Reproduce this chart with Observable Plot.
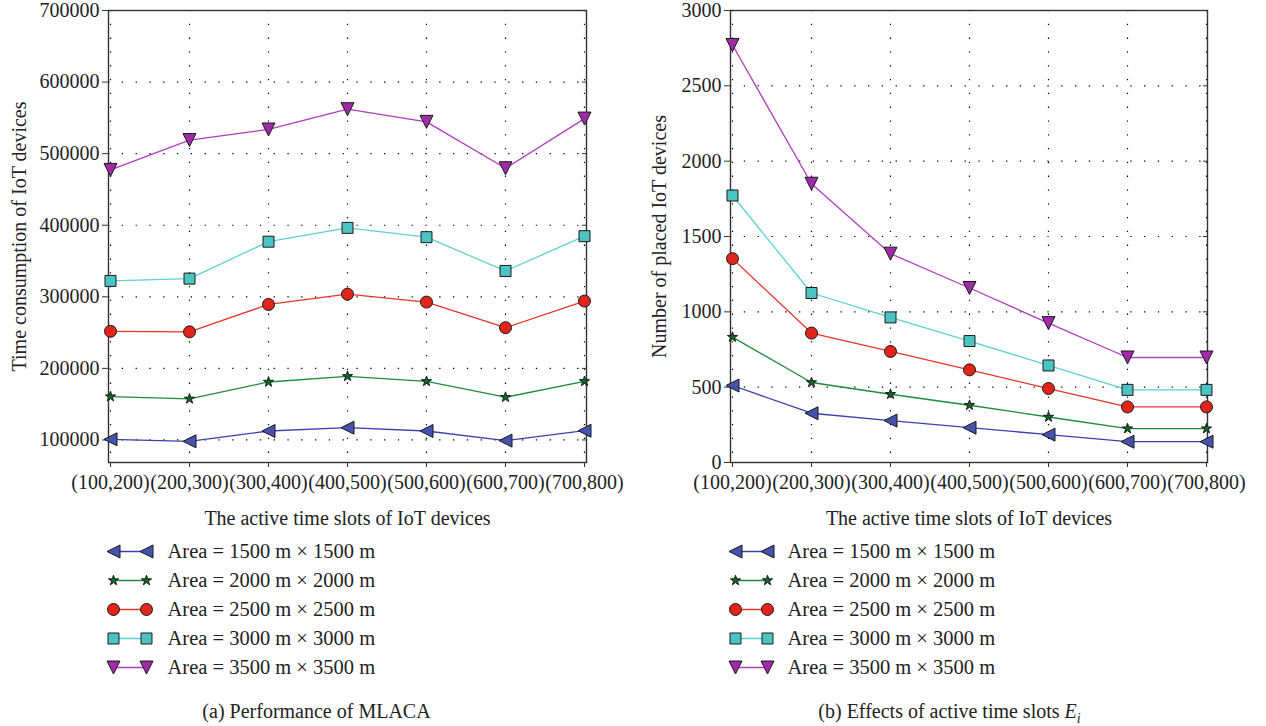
<!DOCTYPE html>
<html><head><meta charset="utf-8">
<script src="https://cdn.jsdelivr.net/npm/d3@7"></script>
<script src="https://cdn.jsdelivr.net/npm/@observablehq/plot@0.6"></script>
<style>
body{margin:0;background:#fff;width:1266px;height:726px;overflow:hidden;font-family:"Liberation Serif",serif;color:#222;}
.panel{position:absolute;top:0;width:633px;height:726px;}
.chart{position:absolute;top:0;left:0;}
.legend{position:absolute;top:530px;left:0;}
.caption{position:absolute;top:699px;left:0;width:633px;text-align:center;font-size:20px;line-height:24px;color:#222;}
</style></head>
<body>
<div id="left" class="panel" style="left:0"><div class="chart"></div><div class="legend"></div><div class="caption">(a) Performance of MLACA</div></div>
<div id="right" class="panel" style="left:633px"><div class="chart"></div><div class="legend"></div><div class="caption">(b) Effects of active time slots <i>E<sub style="font-size:14px">i</sub></i></div></div>
<script>
// ---- data ----
const categories = ["(100,200)", "(200,300)", "(300,400)", "(400,500)", "(500,600)", "(600,700)", "(700,800)"];
const seriesNames = ["Area = 1500 m × 1500 m", "Area = 2000 m × 2000 m", "Area = 2500 m × 2500 m", "Area = 3000 m × 3000 m", "Area = 3500 m × 3500 m"];

const timeArea1500 = [100900, 98100, 112500, 117100, 112500, 99100, 112900];
const timeArea2000 = [160600, 157400, 181000, 188900, 181900, 159700, 181900];
const timeArea2500 = [251800, 251000, 289300, 303700, 292600, 256900, 294000];
const timeArea3000 = [322200, 325400, 377000, 396300, 383300, 336100, 384700];
const timeArea3500 = [477300, 519000, 533800, 562100, 544400, 479600, 549000];

const placedArea1500 = [511, 327, 278, 231, 185, 138, 138];
const placedArea2000 = [832, 531, 453, 380, 302, 225, 225];
const placedArea2500 = [1353, 859, 737, 615, 491, 369, 369];
const placedArea3000 = [1772, 1125, 963, 806, 644, 482, 482];
const placedArea3500 = [2771, 1850, 1386, 1158, 925, 697, 697];

const timeTicks = [100000, 200000, 300000, 400000, 500000, 600000, 700000];
const placedTicks = [0, 500, 1000, 1500, 2000, 2500, 3000];

// ---- styles ----
const triLeft = {draw(ctx, size) { const r = Math.sqrt(size / Math.PI); ctx.moveTo(-r, 0); ctx.lineTo(r, -r); ctx.lineTo(r, r); ctx.closePath(); }};
const triDown = {draw(ctx, size) { const r = Math.sqrt(size / Math.PI); ctx.moveTo(0, r); ctx.lineTo(-r, -r); ctx.lineTo(r, -r); ctx.closePath(); }};
const seriesStyles = [
  {line: "#3b3fb0", fill: "#4553ad", symbol: triLeft, r: 6.5},
  {line: "#1e8b3d", fill: "#0b6b22", symbol: "star", r: 3.2},
  {line: "#e8352b", fill: "#e0261c", symbol: "circle", r: 6},
  {line: "#5cd2d2", fill: "#4cc4c4", symbol: "square", r: 6.2},
  {line: "#b03ec0", fill: "#a02ba8", symbol: triDown, r: 6.5}
];
const FONT = "Liberation Serif";

function chart(el, {series, yDomain, yTicks, yLabel, marginLeft, marginRight, yLabelDx}) {
  const marks = [
    Plot.gridX({stroke: "#000", strokeOpacity: 1, strokeWidth: 1.2, strokeDasharray: "1.3,12.5"}),
    Plot.gridY(yTicks, {stroke: "#000", strokeOpacity: 1, strokeWidth: 1.2, strokeDasharray: "1.3,12.5"}),
    Plot.frame({stroke: "#333", strokeWidth: 1.4}),
    Plot.axisY(yTicks, {anchor: "right", tickSize: -5, tickFormat: () => "", stroke: "#333", label: null}),
    Plot.axisY(yTicks, {anchor: "left", tickSize: 6, tickPadding: 3, tickFormat: d => String(d), stroke: "#333", fill: "#222", label: null}),
    Plot.axisX({anchor: "bottom", tickSize: 5, tickPadding: 7, stroke: "#333", fill: "#222", label: null}),
    Plot.text([yLabel], {frameAnchor: "left", rotate: -90, dx: yLabelDx, textAnchor: "middle", lineAnchor: "middle", fill: "#222"}),
    Plot.text(["The active time slots of IoT devices"], {frameAnchor: "bottom", dy: 56, textAnchor: "middle", lineAnchor: "middle", fill: "#222"})
  ];
  series.forEach((vals, i) => {
    const st = seriesStyles[i];
    const rows = vals.map((v, j) => ({cat: categories[j], v}));
    marks.push(Plot.line(rows, {x: "cat", y: "v", stroke: st.line, strokeWidth: 1.3}));
  });
  series.forEach((vals, i) => {
    const st = seriesStyles[i];
    const rows = vals.map((v, j) => ({cat: categories[j], v}));
    marks.push(Plot.dot(rows, {x: "cat", y: "v", symbol: st.symbol, r: st.r, fill: st.fill, stroke: "#1a1a1a", strokeWidth: 1}));
  });
  const p = Plot.plot({
    width: 633, height: 530,
    marginLeft, marginRight, marginTop: 10, marginBottom: 68,
    style: {fontFamily: FONT, fontSize: "20px", background: "white", overflow: "visible"},
    x: {type: "point", domain: categories, padding: 0, axis: null},
    y: {domain: yDomain, axis: null},
    marks
  });
  el.appendChild(p);
}

function legend(el, xRange, textDx) {
  const marks = [];
  seriesNames.forEach((name, i) => {
    const st = seriesStyles[i];
    const rows = [0, 1].map(t => ({name, t}));
    marks.push(Plot.line(rows, {x: "t", y: "name", stroke: st.line, strokeWidth: 1.3}));
    marks.push(Plot.dot(rows, {x: "t", y: "name", symbol: st.symbol, r: st.r, fill: st.fill, stroke: "#1a1a1a", strokeWidth: 1}));
  });
  marks.push(Plot.text(seriesNames, {x: () => 1, y: d => d, dx: textDx, textAnchor: "start", lineAnchor: "middle", fill: "#222"}));
  const p = Plot.plot({
    width: 633, height: 160, margin: 0,
    style: {fontFamily: FONT, fontSize: "20.5px", background: "white", overflow: "visible"},
    x: {domain: [0, 1], range: xRange, axis: null},
    y: {type: "point", domain: seriesNames, range: [21, 137], padding: 0, axis: null},
    marks
  });
  el.appendChild(p);
}

const left = document.querySelector("#left");
const right = document.querySelector("#right");
chart(left.querySelector(".chart"), {
  series: [timeArea1500, timeArea2000, timeArea2500, timeArea3000, timeArea3500],
  yDomain: [68500, 700000], yTicks: timeTicks,
  yLabel: "Time consumption of IoT devices",
  marginLeft: 108, marginRight: 47, yLabelDx: -89
});
chart(right.querySelector(".chart"), {
  series: [placedArea1500, placedArea2000, placedArea2500, placedArea3000, placedArea3500],
  yDomain: [0, 3000], yTicks: placedTicks,
  yLabel: "Number of placed IoT devices",
  marginLeft: 97, marginRight: 59, yLabelDx: -71
});
legend(left.querySelector(".legend"), [113, 146], 21);
legend(right.querySelector(".legend"), [102, 134], 20);
</script>
</body></html>
